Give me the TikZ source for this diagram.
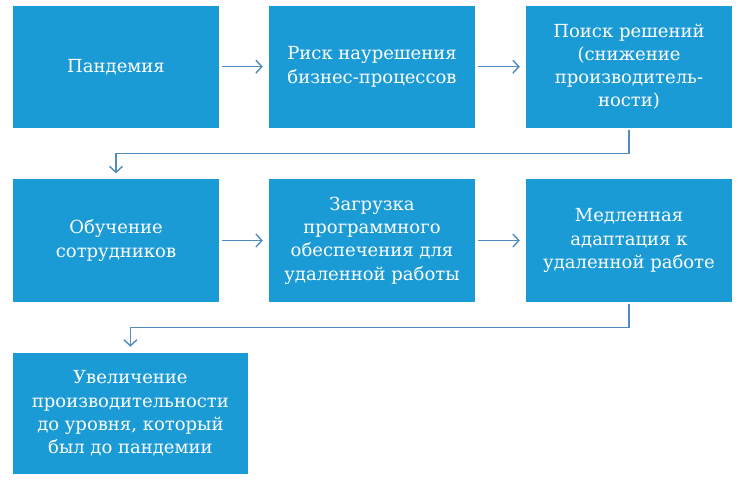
\documentclass[tikz,border=0pt]{standalone}
\usepackage{fontspec}
\setmainfont{DejaVu Serif}
\newfontfamily\boxfont{DejaVu Serif}
\usetikzlibrary{arrows.meta,calc}
\definecolor{boxblue}{RGB}{27,155,214}
\definecolor{arrblue}{RGB}{80,140,190}
\begin{document}
\begin{tikzpicture}[x=1pt,y=-1pt,
  stepbox/.style={rectangle,fill=boxblue,text=white,align=center,inner sep=0pt,
    minimum width=206pt,minimum height=122pt,
    font=\boxfont\fontsize{18}{23.3}\selectfont},
  arr/.style={draw=arrblue,line width=1.4pt,-{Straight Barb[length=6pt,width=13pt]}},
  harr/.style={arr,shorten <=3pt,shorten >=6pt}]
\useasboundingbox (0,0) rectangle (749,494);
\fill[white] (0,0) rectangle (749,494);
\node[stepbox] (b1) at (116,66.7) {Пандемия};
\node[stepbox] (b2) at (372,66.7) {Риск наурешения\\бизнес-процессов};
\node[stepbox] (b3) at (629,66.7) {Поиск решений\\(снижение\\производитель-\\ности)};
\node[stepbox] (b4) at (116,240.5) {Обучение\\сотрудников};
\node[stepbox] (b5) at (372,240.5) {Загрузка\\программного\\обеспечения для\\удаленной работы};
\node[stepbox] (b6) at (629,240.5) {Медленная\\адаптация к\\удаленной работе};
\node[stepbox,minimum width=235pt,minimum height=121pt] (b7) at (130.4,413.4) {Увеличение\\производительности\\до уровня, который\\был до пандемии};
\draw[harr] (b1) -- (b2);
\draw[harr] (b2) -- (b3);
\draw[harr] (b4) -- (b5);
\draw[harr] (b5) -- (b6);
\coordinate (j1) at ($(b3.south)!0.5!(b4.north)$);
\coordinate (j2) at ($(b6.south)!0.5!(b7.north)$);
\draw[arr,shorten <=2pt,shorten >=6pt] (b3.south) -- (b3.south |- j1) -- (b4.north |- j1) -- (b4.north);
\draw[arr,shorten <=2pt,shorten >=6pt] (b6.south) -- (b6.south |- j2) -- (b7.north |- j2) -- (b7.north);
\end{tikzpicture}
\end{document}
